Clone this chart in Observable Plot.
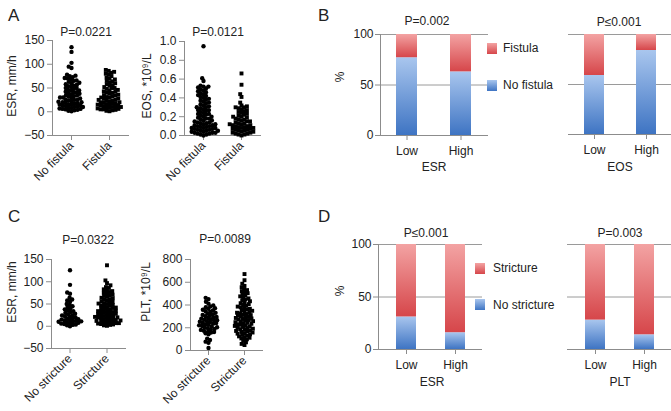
<!DOCTYPE html>
<html><head><meta charset="utf-8">
<script src="https://cdn.jsdelivr.net/npm/d3@7"></script>
<script src="https://cdn.jsdelivr.net/npm/@observablehq/plot@0.6"></script>
<style>
html,body{margin:0;padding:0;background:#fff;overflow:hidden;}
#root{position:relative;width:671px;height:411px;overflow:hidden;font-family:"Liberation Sans",Arial,sans-serif;color:#222;}
.box{position:absolute;}
.box svg{overflow:visible;}
.t{position:absolute;font-size:12px;white-space:nowrap;transform:translate(-50%,-50%);line-height:1;}
.l{position:absolute;font-size:12px;white-space:nowrap;transform:translate(0,-50%);line-height:1;}
.rot{position:absolute;font-size:12px;white-space:nowrap;transform:translate(-50%,-50%) rotate(-90deg);line-height:1;}
.letter{position:absolute;font-size:17px;line-height:1;}
.sw{position:absolute;width:10px;height:10.5px;}
.swB{background:linear-gradient(#a9c6ee,#3e74c3);}
.swR{background:linear-gradient(#f3a3a3,#d6464a);}
</style></head>
<body><div id="root">
<svg width="0" height="0" style="position:absolute"><defs>
<linearGradient id="gBlue" x1="0" y1="0" x2="0" y2="1"><stop offset="0" stop-color="#a9c6ee"/><stop offset="1" stop-color="#3e74c3"/></linearGradient>
<linearGradient id="gRed" x1="0" y1="0" x2="0" y2="1"><stop offset="0" stop-color="#f3a3a3"/><stop offset="1" stop-color="#d6464a"/></linearGradient>
</defs></svg>
</div>
<script>
// ---------- data ----------
const fistulaGroups = ["No fistula", "Fistula"];
const strictureGroups = ["No stricture", "Stricture"];
const levels = ["Low", "High"];

const esrNoFistula = [1,2,3,4,5,6,6,7,8,9,10,10,11,12,13,14,15,15,16,17,18,19,20,20,21,22,24,25,25,26,28,29,30,30,32,33,34,35,36,38,39,40,41,42,44,45,46,48,50,50,52,54,55,57,58,60,61,63,65,66,68,70,71,73,75,76,78,92,95,103,126,136];
const esrFistula = [1,2,3,4,5,5,6,7,8,9,10,10,11,12,13,14,15,15,16,17,18,19,20,20,22,23,24,25,25,27,28,30,30,31,33,34,35,36,38,40,40,42,43,45,46,48,50,50,52,55,56,58,60,62,64,65,68,70,72,75,78,80,82,84,86,88];
const eosNoFistula = [0.00,0.01,0.01,0.02,0.02,0.03,0.03,0.03,0.04,0.04,0.05,0.05,0.05,0.06,0.06,0.07,0.07,0.08,0.08,0.08,0.09,0.09,0.10,0.10,0.11,0.11,0.12,0.12,0.13,0.13,0.14,0.14,0.15,0.16,0.16,0.17,0.18,0.18,0.19,0.20,0.20,0.21,0.22,0.23,0.23,0.24,0.25,0.26,0.27,0.27,0.28,0.29,0.30,0.30,0.31,0.32,0.33,0.34,0.35,0.36,0.37,0.38,0.39,0.40,0.41,0.42,0.43,0.44,0.45,0.46,0.47,0.48,0.49,0.50,0.51,0.52,0.52,0.53,0.58,0.61,0.95];
const eosFistula = [0.00,0.01,0.01,0.02,0.02,0.03,0.03,0.04,0.04,0.05,0.05,0.06,0.06,0.07,0.07,0.08,0.08,0.09,0.09,0.10,0.10,0.11,0.11,0.12,0.12,0.13,0.13,0.14,0.15,0.15,0.16,0.17,0.17,0.18,0.19,0.20,0.20,0.21,0.22,0.23,0.24,0.25,0.26,0.27,0.28,0.29,0.30,0.30,0.31,0.32,0.35,0.41,0.44,0.54,0.66];
const esrNoStricture = [0,2,3,4,5,6,7,8,9,10,10,11,12,13,14,15,16,17,18,20,21,22,24,25,27,28,30,32,34,36,38,40,43,45,48,50,55,58,60,64,73,76,93,126];
const esrStricture = [1,2,3,4,5,6,7,7,8,9,10,11,12,12,13,14,15,16,17,18,19,20,20,21,22,23,24,25,26,27,28,29,30,31,32,33,34,35,36,37,38,40,41,42,43,45,46,47,48,50,51,52,54,55,56,58,60,61,63,64,66,68,70,71,73,75,77,79,81,83,86,88,92,97,103,137];
const pltNoStricture = [22,68,78,92,104,142,151,158,163,170,174,181,186,190,197,201,205,212,216,221,226,230,236,241,244,250,253,258,262,267,271,276,280,286,291,295,302,307,313,318,324,331,338,345,352,358,366,372,380,388,396,412,428,452,463];
const pltStricture = [48,58,72,84,98,106,112,118,124,131,137,142,148,153,158,163,168,172,177,183,188,192,197,203,207,212,216,221,226,231,235,240,244,249,254,258,263,268,272,277,282,286,291,296,301,306,311,316,321,327,332,338,343,349,354,361,367,373,380,386,393,400,408,416,424,433,441,450,458,467,476,486,495,504,513,522,531,540,556,568,587,618,672];

// stacked percentages (Low, High)
const esrFistulaNoPct = [77, 63], esrFistulaYesPct = [23, 37];
const eosFistulaNoPct = [59, 84], eosFistulaYesPct = [41, 16];
const esrStrictNoPct = [31, 16], esrStrictYesPct = [69, 84];
const pltStrictNoPct = [28, 14], pltStrictYesPct = [72, 86];

// ---------- helpers ----------
const root = document.getElementById("root");
const AX = "#8c8c8c", GRID = "#9a9a9a", TXT = "#222";
const FONT = "Liberation Sans, Arial, sans-serif";

function place(node, left, top, width) {
  const d = document.createElement("div");
  d.className = "box";
  d.style.left = left + "px"; d.style.top = top + "px"; d.style.width = width + "px";
  d.appendChild(node);
  root.appendChild(d);
}
function text(cls, s, x, y, size) {
  const d = document.createElement("div");
  d.className = cls; d.textContent = s;
  d.style.left = x + "px"; d.style.top = y + "px";
  if (size) d.style.fontSize = size + "px";
  root.appendChild(d);
  return d;
}

function scatter(o) {
  const data = [];
  o.groups.forEach((g, i) => o.values[i].forEach(v => data.push({group: g, value: v})));
  const chart = Plot.plot({
    width: o.width, height: o.height,
    marginLeft: o.mL, marginRight: o.mR, marginTop: o.mT, marginBottom: o.mB,
    style: {fontFamily: FONT, fontSize: "12px", color: TXT, background: "transparent", overflow: "visible"},
    fx: {domain: o.groups, paddingInner: 0, paddingOuter: 0, label: null},
    y: {domain: o.yDomain, label: null},
    symbol: {domain: o.groups, range: ["circle", "square"]},
    marks: [
      Plot.frame({anchor: "left", stroke: AX, facet: "super"}),
      Plot.frame({anchor: "bottom", stroke: AX, facet: "super"}),
      Plot.axisY({ticks: o.yTicks, tickSize: 5, tickPadding: 3, tickFormat: o.tickFormat, stroke: AX, fill: TXT, label: null}),
      Plot.axisFx({anchor: "bottom", tickRotate: -45, tickSize: 5, tickPadding: 3, stroke: AX, fill: TXT, label: null}),
      Plot.dot(data, Plot.dodgeX({anchor: "middle", padding: -1.3}, {fx: "group", y: "value", r: 2.2, symbol: "group", fill: "#000", stroke: "none"}))
    ]
  });
  place(chart, o.left, o.top, o.width);
}

function bars(o) {
  const data = [];
  o.levels.forEach((l, i) => {
    data.push({level: l, status: o.noLabel, pct: o.noVals[i]});
    data.push({level: l, status: o.yesLabel, pct: o.yesVals[i]});
  });
  const marks = [
    Plot.ruleY([50, 100], {stroke: GRID}),
    Plot.barY(data, {x: "level", y: "pct", fill: "status"}),
    Plot.ruleY([0], {stroke: AX}),
    Plot.axisX({tickSize: 5, tickPadding: 6, stroke: AX, fill: TXT, label: null})
  ];
  if (o.showY) {
    marks.push(Plot.frame({anchor: "left", stroke: AX}));
    marks.push(Plot.axisY({ticks: [0, 50, 100], tickSize: 5, tickPadding: 2, stroke: AX, fill: TXT, label: null}));
  }
  const chart = Plot.plot({
    width: o.width, height: o.height,
    marginLeft: o.mL, marginRight: o.mR, marginTop: o.mT, marginBottom: o.mB,
    style: {fontFamily: FONT, fontSize: "12px", color: TXT, background: "transparent", overflow: "visible"},
    x: {domain: o.levels, paddingInner: o.pi, paddingOuter: o.po, label: null},
    y: {domain: [0, 100], label: null, axis: o.showY ? undefined : null},
    color: {domain: [o.noLabel, o.yesLabel], range: ["url(#gBlue)", "url(#gRed)"]},
    marks
  });
  place(chart, o.left, o.top, o.width);
}

const f1 = d3.format(".1f");

// ---------- panel A ----------
scatter({groups: fistulaGroups, values: [esrNoFistula, esrFistula], yDomain: [-50, 150], yTicks: [-50, 0, 50, 100, 150],
  left: 0, top: 0, width: 135, height: 200, mL: 52, mR: 7, mT: 40, mB: 65});
scatter({groups: fistulaGroups, values: [eosNoFistula, eosFistula], yDomain: [0, 1], yTicks: [0, 0.2, 0.4, 0.6, 0.8, 1.0], tickFormat: f1,
  left: 134, top: 0, width: 132, height: 200, mL: 50, mR: 6, mT: 41, mB: 65});
// ---------- panel C ----------
scatter({groups: strictureGroups, values: [esrNoStricture, esrStricture], yDomain: [-50, 150], yTicks: [-50, 0, 50, 100, 150],
  left: 0, top: 200, width: 131, height: 211, mL: 51, mR: 6, mT: 59, mB: 63});
scatter({groups: strictureGroups, values: [pltNoStricture, pltStricture], yDomain: [0, 800], yTicks: [0, 200, 400, 600, 800],
  left: 135, top: 200, width: 133, height: 211, mL: 54, mR: 6, mT: 59, mB: 61});

// ---------- panel B ----------
bars({levels, noVals: esrFistulaNoPct, yesVals: esrFistulaYesPct, noLabel: "No fistula", yesLabel: "Fistula", showY: true,
  left: 340, top: 0, width: 158, height: 180, mL: 40, mR: 10, mT: 34, mB: 45, pi: 0.61, po: 0.3});
bars({levels, noVals: eosFistulaNoPct, yesVals: eosFistulaYesPct, noLabel: "No fistula", yesLabel: "Fistula", showY: false,
  left: 568, top: 0, width: 110, height: 180, mL: 0, mR: 6, mT: 34, mB: 46, pi: 0.61, po: 0.3});
// ---------- panel D ----------
bars({levels, noVals: esrStrictNoPct, yesVals: esrStrictYesPct, noLabel: "No stricture", yesLabel: "Stricture", showY: true,
  left: 338, top: 200, width: 154, height: 180, mL: 40, mR: 10, mT: 44, mB: 31, pi: 0.6, po: 0.35});
bars({levels, noVals: pltStrictNoPct, yesVals: pltStrictYesPct, noLabel: "No stricture", yesLabel: "Stricture", showY: false,
  left: 567, top: 200, width: 110, height: 180, mL: 0, mR: 6, mT: 44, mB: 31, pi: 0.6, po: 0.35});

// ---------- texts ----------
text("letter", "A", 8, 7); text("letter", "B", 318, 7); text("letter", "C", 8, 208); text("letter", "D", 318, 208);
text("t", "P=0.0221", 86, 32); text("t", "P=0.0121", 218, 32);
text("t", "P=0.0322", 88, 240); text("t", "P=0.0089", 225, 239);
text("t", "P=0.002", 427, 21); text("t", "P≤0.001", 619, 22);
text("t", "P≤0.001", 426, 233); text("t", "P=0.003", 620, 233);
text("rot", "ESR, mm/h", 12, 86); text("rot", "EOS, *10⁹/L", 147, 86);
text("rot", "ESR, mm/h", 12, 292); text("rot", "PLT, *10⁹/L", 146, 292);
text("rot", "%", 340, 77); text("rot", "%", 340, 291);
text("t", "ESR", 434, 167); text("t", "EOS", 620, 167);
text("t", "ESR", 432, 382); text("t", "PLT", 620, 382);
// legends
function sw(cls, x, y) { const d = document.createElement("div"); d.className = "sw " + cls; d.style.left = x + "px"; d.style.top = y + "px"; root.appendChild(d); }
sw("swR", 487, 43); text("l", "Fistula", 503, 48);
sw("swB", 487, 80); text("l", "No fistula", 503, 85);
sw("swR", 475, 263); text("l", "Stricture", 493, 268);
sw("swB", 475, 299); text("l", "No stricture", 493, 305);
</script>
</body></html>
